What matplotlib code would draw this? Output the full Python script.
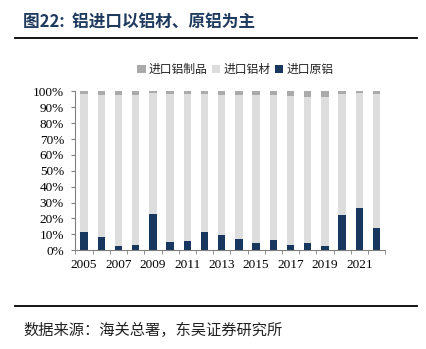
import matplotlib
matplotlib.use("Agg")
import matplotlib.pyplot as plt
import numpy as np

plt.rcParams['font.family'] = ['Noto Sans CJK SC', 'DejaVu Sans']

years = list(range(2005, 2023))
primary = [11.6, 8.3, 2.9, 3.1, 22.9, 5.3, 5.5, 11.6, 9.3, 7.2, 4.6, 6.7, 3.3, 4.6, 2.9, 22.4, 26.4, 14.0]
products = [1.7, 2.3, 2.3, 2.3, 1.1, 1.9, 1.9, 1.9, 2.1, 2.1, 2.5, 2.5, 2.8, 3.2, 3.2, 1.5, 1.1, 1.7]
materials = [100 - p - q for p, q in zip(primary, products)]

c_primary = "#17375E"
c_material = "#DDDDDD"
c_product = "#AAAAAA"
navy = "#1F3A5F"

fig = plt.figure(figsize=(4.27, 3.49), dpi=100)
ax = fig.add_axes([0.176, 0.283, 0.726, 0.455])

x = np.arange(len(years))
w = 0.43
ax.bar(x, primary, w, color=c_primary, label="进口原铝")
ax.bar(x, materials, w, bottom=primary, color=c_material, label="进口铝材")
ax.bar(x, products, w, bottom=np.array(primary) + np.array(materials), color=c_product, label="进口铝制品")

ax.set_ylim(0, 100)
ax.set_xlim(-0.52, 17.42)
ax.set_yticks(range(0, 101, 10))
ax.set_yticklabels([f"{v}%" for v in range(0, 101, 10)], family="Liberation Serif", fontsize=9.5)
ax.set_xticks(x[::2])
ax.set_xticklabels([str(y) for y in years[::2]], family="Liberation Serif", fontsize=9.5)
ax.set_xticks(np.arange(-0.5, len(years), 1), minor=True)
ax.tick_params(axis="x", which="major", length=0, pad=6)
ax.tick_params(axis="x", which="minor", length=3, direction="out", color="#808080")
ax.tick_params(axis="y", length=3, direction="out", color="#808080", pad=5)
for s in ["top", "right"]:
    ax.spines[s].set_visible(False)
for s in ["left", "bottom"]:
    ax.spines[s].set_color("#808080")
    ax.spines[s].set_linewidth(0.8)

h, l = ax.get_legend_handles_labels()
fig.legend(h[::-1], l[::-1], loc="center", bbox_to_anchor=(0.551, 0.80), ncol=3,
           frameon=False, fontsize=8.5, handlelength=0.7, handleheight=0.7,
           handletextpad=0.25, columnspacing=0.4,
           prop={"family": ["Noto Sans CJK SC"], "size": 8.5})
for t in fig.legends[0].get_texts():
    t.set_color("#222222")

fig.text(0.055, 0.935, "图22:  铝进口以铝材、原铝为主", fontsize=12, fontweight="bold",
         color=navy, va="center", ha="left")
fig.add_artist(plt.Line2D([0.035, 0.977], [0.89, 0.89], color="black", lw=1.3))
fig.add_artist(plt.Line2D([0.035, 0.977], [0.123, 0.123], color="black", lw=1.3))
fig.text(0.055, 0.052, "数据来源：海关总署，东吴证券研究所", fontsize=11, color="#222222",
         va="center", ha="left")

fig.savefig("out.png", dpi=100)
